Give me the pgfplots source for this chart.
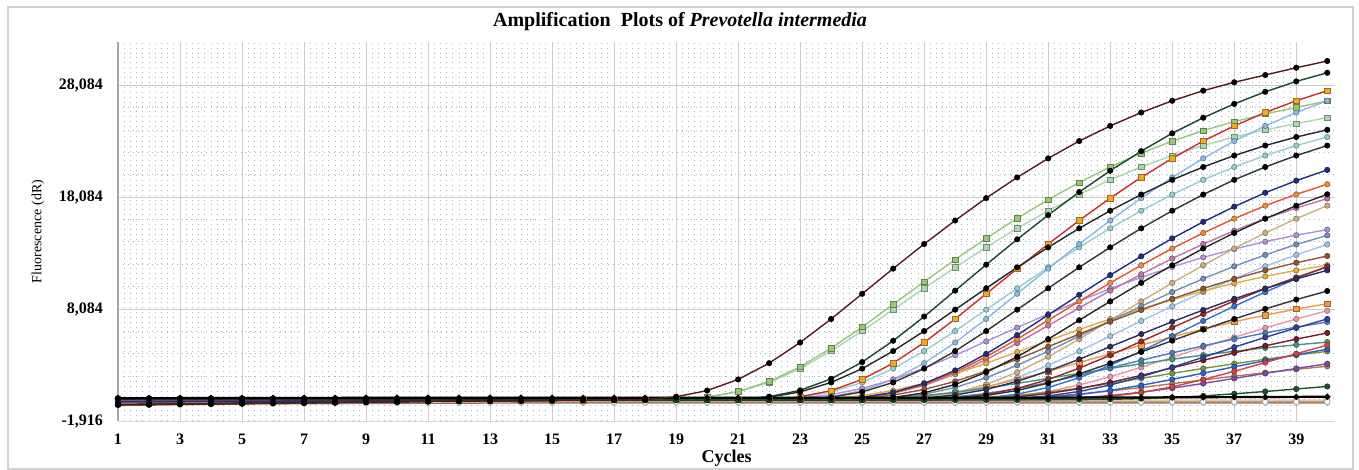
\documentclass[border=0pt]{standalone}
\usepackage{pgfplots}
\usepackage{pgfplotstable}
\pgfplotsset{compat=1.18}
\usepackage{fontspec}
\setmainfont{Liberation Serif}

% one row per well, one column per cycle (transposed below)
\pgfplotstableread{
name c1 c2 c3 c4 c5 c6 c7 c8 c9 c10 c11 c12 c13 c14 c15 c16 c17 c18 c19 c20 c21 c22 c23 c24 c25 c26 c27 c28 c29 c30 c31 c32 c33 c34 c35 c36 c37 c38 c39 c40
cycle 1 2 3 4 5 6 7 8 9 10 11 12 13 14 15 16 17 18 19 20 21 22 23 24 25 26 27 28 29 30 31 32 33 34 35 36 37 38 39 40
A -450 -430 -400 -370 -340 -310 -280 -250 -220 -190 -160 -130 -110 -90 -70 -50 -30 -10 250 800 1800 3250 5100 7200 9450 11700 13900 16000 18000 19850 21550 23100 24450 25650 26700 27600 28350 29000 29650 30250
B -200 -190 -180 -170 -160 -150 -140 -130 -120 -110 -100 -90 -80 -70 -60 -50 -40 -30 -30 225 720 1620 2925 4590 6480 8505 10530 12510 14400 16200 17865 19395 20790 22005 23085 24030 24840 25515 26100 26685
C 0 0 0 0 0 0 0 0 0 0 0 0 0 0 0 0 0 0 0 213 680 1530 2763 4335 6120 8033 9945 11815 13600 15300 16873 18318 19635 20783 21803 22695 23460 24098 24650 25203
D -450 -430 -400 -370 -340 -310 -280 -250 -220 -190 -160 -130 -110 -90 -70 -50 -30 -10 -10 -10 -10 258 824 1854 3348 5253 7416 9734 12051 14317 16480 18540 20446 22197 23793 25184 26420 27501 28428 29201
E 100 90 90 80 80 70 70 60 60 50 50 40 40 30 30 20 20 10 10 10 10 213 680 1530 2763 4335 6120 8033 9945 11815 13600 15300 16873 18318 19635 20783 21803 22695 23460 24098
F -200 -190 -180 -170 -160 -150 -140 -130 -120 -110 -100 -90 -80 -70 -60 -50 -40 -30 -30 -30 -30 -30 250 800 1800 3250 5100 7200 9450 11700 13900 16000 18000 19850 21550 23100 24450 25650 26700 27600
G 0 0 0 0 0 0 0 0 0 0 0 0 0 0 0 0 0 0 0 0 0 0 213 680 1530 2763 4335 6120 8033 9945 11815 13600 15300 16873 18318 19635 20783 21803 22695 23460
H 100 90 90 80 80 70 70 60 60 50 50 40 40 30 30 20 20 10 10 10 10 10 10 250 800 1800 3250 5100 7200 9450 11700 13900 16000 18000 19850 21550 23100 24450 25650 26700
I -450 -430 -400 -370 -340 -310 -280 -250 -220 -190 -160 -130 -110 -90 -70 -50 -30 -10 -10 -10 -10 -10 -10 213 680 1530 2763 4335 6120 8033 9945 11815 13600 15300 16873 18318 19635 20783 21803 22695
J -200 -190 -180 -170 -160 -150 -140 -130 -120 -110 -100 -90 -80 -70 -60 -50 -40 -30 -30 -30 -30 -30 -30 -30 200 640 1440 2600 4080 5760 7560 9360 11120 12800 14400 15880 17240 18480 19560 20520
K 0 0 0 0 0 0 0 0 0 0 0 0 0 0 0 0 0 0 0 0 0 0 0 0 188 600 1350 2438 3825 5400 7088 8775 10425 12000 13500 14888 16163 17325 18338 19238
L -450 -430 -400 -370 -340 -310 -280 -250 -220 -190 -160 -130 -110 -90 -70 -50 -30 -10 -10 -10 -10 -10 -10 -10 -10 188 600 1350 2438 3825 5400 7088 8775 10425 12000 13500 14888 16163 17325 18338
M 100 90 90 80 80 70 70 60 60 50 50 40 40 30 30 20 20 10 10 10 10 10 10 10 175 560 1260 2275 3570 5040 6615 8190 9730 11200 12600 13895 15085 16170 17115 17955
N -200 -190 -180 -170 -160 -150 -140 -130 -120 -110 -100 -90 -80 -70 -60 -50 -40 -30 -30 -30 -30 -30 -30 -30 -30 -30 188 600 1350 2438 3825 5400 7088 8775 10425 12000 13500 14888 16163 17325
O 0 0 0 0 0 0 0 0 0 0 0 0 0 0 0 0 0 0 0 0 0 0 0 0 0 150 480 1080 1950 3060 4320 5670 7020 8340 9600 10800 11910 12930 13860 14670
P -450 -430 -400 -370 -340 -310 -280 -250 -220 -190 -160 -130 -110 -90 -70 -50 -30 -10 -10 -10 -10 -10 -10 -10 -10 -10 150 480 1080 1950 3060 4320 5670 7020 8340 9600 10800 11910 12930 13860
Q -200 -190 -180 -170 -160 -150 -140 -130 -120 -110 -100 -90 -80 -70 -60 -50 -40 -30 -30 -30 -30 -30 -30 -30 125 400 900 1625 2550 3600 4725 5850 6950 8000 9000 9925 10775 11550 12225 12825
R 100 90 90 80 80 70 70 60 60 50 50 40 40 30 30 20 20 10 10 10 10 10 10 10 10 10 10 138 440 990 1788 2805 3960 5198 6435 7645 8800 9900 10918 11853
S 0 0 0 0 0 0 0 0 0 0 0 0 0 0 0 0 0 0 0 0 0 0 0 0 0 0 125 400 900 1625 2550 3600 4725 5850 6950 8000 9000 9925 10775 11550
U -450 -430 -400 -370 -340 -310 -280 -250 -220 -190 -160 -130 -110 -90 -70 -50 -30 -10 -10 -10 -10 -10 -10 -10 -10 -10 -10 113 360 810 1463 2295 3240 4253 5265 6255 7200 8100 8933 9698
V -200 -190 -180 -170 -160 -150 -140 -130 -120 -110 -100 -90 -80 -70 -60 -50 -40 -30 -30 -30 -30 -30 -30 -30 -30 88 280 630 1138 1785 2520 3308 4095 4865 5600 6300 6948 7543 8085 8558
W 0 0 0 0 0 0 0 0 0 0 0 0 0 0 0 0 0 0 0 0 0 0 0 0 0 0 0 0 100 320 720 1300 2040 2880 3780 4680 5560 6400 7200 7940
X 100 90 90 80 80 70 70 60 60 50 50 40 40 30 30 20 20 10 10 10 10 10 10 10 10 10 75 240 540 975 1530 2160 2835 3510 4170 4800 5400 5955 6465 6930
Y -450 -430 -400 -370 -340 -310 -280 -250 -220 -190 -160 -130 -110 -90 -70 -50 -30 -10 -10 -10 -10 -10 -10 -10 -10 -10 -10 -10 75 240 540 975 1530 2160 2835 3510 4170 4800 5400 5955
Z -200 -190 -180 -170 -160 -150 -140 -130 -120 -110 -100 -90 -80 -70 -60 -50 -40 -30 -30 -30 -30 -30 -30 -30 50 160 360 650 1020 1440 1890 2340 2780 3200 3600 3970 4310 4620 4890 5130
AA 0 0 0 0 0 0 0 0 0 0 0 0 0 0 0 0 0 0 0 0 0 0 0 0 0 0 0 0 0 63 200 450 813 1275 1800 2363 2925 3475 4000 4500
AB 100 90 90 80 80 70 70 60 60 50 50 40 40 30 30 20 20 10 10 10 10 10 10 10 10 10 10 50 160 360 650 1020 1440 1890 2340 2780 3200 3600 3970 4310
AC -200 -190 -180 -170 -160 -150 -140 -130 -120 -110 -100 -90 -80 -70 -60 -50 -40 -30 -30 -30 -30 -30 -30 -30 -30 -30 -30 -30 -30 -30 50 160 360 650 1020 1440 1890 2340 2780 3200
AD -450 -430 -400 -370 -340 -310 -280 -250 -220 -190 -160 -130 -110 -90 -70 -50 -30 -10 -10 -10 -10 -10 -10 -10 -10 -10 -10 -10 -10 -10 -10 -10 25 80 180 325 510 720 945 1170
AE 0 0 0 0 0 0 0 0 0 0 0 0 0 0 0 0 0 0 0 0 0 0 0 0 0 0 0 0 38 120 270 488 765 1080 1418 1755 2085 2400 2700 2978
AF 100 90 90 80 80 70 70 60 60 50 50 40 40 30 30 20 20 10 10 10 10 10 10 10 10 10 10 10 10 100 320 720 1300 2040 2880 3780 4680 5560 6400 7200
AG -450 -430 -400 -370 -340 -310 -280 -250 -220 -190 -160 -130 -110 -90 -70 -50 -30 -10 -10 -10 -10 -10 -10 -10 -10 -10 -10 -10 -10 -10 -10 88 280 630 1138 1785 2520 3308 4095 4865
AH -200 -190 -180 -170 -160 -150 -140 -130 -120 -110 -100 -90 -80 -70 -60 -50 -40 -30 -30 -30 -30 -30 -30 113 360 810 1463 2295 3240 4253 5265 6255 7200 8100 8933 9698 10395 11003 11543 12015
AI 0 0 0 0 0 0 0 0 0 0 0 0 0 0 0 0 0 0 0 0 0 0 0 0 0 0 0 0 150 480 1080 1950 3060 4320 5670 7020 8340 9600 10800 11910
AJ 100 90 90 80 80 70 70 60 60 50 50 40 40 30 30 20 20 10 10 10 10 10 138 440 990 1788 2805 3960 5198 6435 7645 8800 9900 10918 11853 12705 13448 14108 14685 15180
FA 120 130 130 140 140 150 150 150 160 160 160 160 160 160 160 160 160 160 160 160 160 160 160 160 160 160 160 160 170 170 170 180 180 190 200 210 220 230 240 250
FB -260 -250 -240 -230 -220 -210 -200 -200 -200 -200 -200 -200 -200 -200 -200 -200 -200 -200 -200 -200 -200 -200 -200 -200 -200 -200 -200 -200 -200 -200 -200 -200 -200 -200 -200 -200 -200 -200 -200 -200
FC -520 -490 -460 -430 -410 -390 -370 -360 -350 -340 -330 -320 -310 -300 -300 -300 -300 -300 -300 -300 -300 -300 -300 -300 -300 -300 -300 -300 -300 -300 -300 -300 -300 -300 -300 -300 -300 -300 -300 -300
FD -100 -100 -90 -90 -80 -80 -70 -70 -60 -60 -50 -50 -50 -50 -50 -50 -50 -50 -50 -50 -50 -50 -50 -50 -50 -50 -50 -50 -50 -50 -50 -50 -50 -50 -50 -50 -50 -50 -50 -50
}\raw
\pgfplotstabletranspose[colnames from=name]{\T}{\raw}

\definecolor{lA}{RGB}{90,25,25}
\definecolor{lB}{RGB}{150,200,120}
\definecolor{lC}{RGB}{170,215,175}
\definecolor{lD}{RGB}{25,70,45}
\definecolor{lF}{RGB}{205,45,40}
\definecolor{mF}{RGB}{245,165,40}
\definecolor{lG}{RGB}{150,205,205}
\definecolor{lH}{RGB}{140,185,225}
\definecolor{lJ}{RGB}{35,45,125}
\definecolor{lK}{RGB}{225,85,45}
\definecolor{mK}{RGB}{240,140,60}
\definecolor{lM}{RGB}{195,115,165}
\definecolor{lN}{RGB}{205,175,125}
\definecolor{lO}{RGB}{115,145,185}
\definecolor{lP}{RGB}{160,195,230}
\definecolor{lQ}{RGB}{145,85,55}
\definecolor{lR}{RGB}{155,40,45}
\definecolor{lS}{RGB}{45,45,95}
\definecolor{lV}{RGB}{240,155,70}
\definecolor{lW}{RGB}{235,150,170}
\definecolor{lX}{RGB}{75,125,185}
\definecolor{lY}{RGB}{125,25,45}
\definecolor{lZ}{RGB}{65,150,125}
\definecolor{lAA}{RGB}{45,95,205}
\definecolor{lAB}{RGB}{115,155,55}
\definecolor{lAC}{RGB}{125,75,165}
\definecolor{lAD}{RGB}{25,85,35}
\definecolor{lAE}{RGB}{175,125,85}
\definecolor{lAF}{RGB}{45,65,155}
\definecolor{lAG}{RGB}{215,65,65}
\definecolor{lAH}{RGB}{225,175,65}
\definecolor{lAI}{RGB}{55,115,205}
\definecolor{lAJ}{RGB}{175,145,215}
\definecolor{lFB}{RGB}{190,160,130}
\definecolor{lFC}{RGB}{145,115,105}
\definecolor{lFD}{RGB}{240,195,155}
\definecolor{dotc}{RGB}{165,182,205}

% column, line colour, mark colour, mark
\newcommand{\curve}[4]{\addplot[draw=#2, line width=0.7pt, mark=#4, mark size=1.35pt,
  mark options={solid, fill=#3, draw=#3!65!black, line width=0.3pt}] table[x=cycle, y=#1] {\T};}

\begin{document}
\begin{tikzpicture}
\begin{axis}[
  name=ax,
  scale only axis,
  width=608.5pt, height=189.5pt,
  xmin=1, xmax=40.25, ymin=-1916, ymax=31950,
  xtick={1,3,...,39},
  ytick={-1916,8084,18084,28084},
  yticklabels={{-1,916},{8,084},{18,084},{28,084}},
  scaled y ticks=false,
  minor x tick num=9,
  minor y tick num=4,
  major tick length=0pt, minor tick length=0pt,
  xmajorgrids=true, xminorgrids=true, ymajorgrids=true, yminorgrids=true,
  major grid style={gray!40, line width=0.4pt},
  minor grid style={dotc, line width=0.45pt, dash pattern=on 0.45pt off 2.0pt},
  axis x line*=bottom, axis y line*=left,
  x axis line style={-, draw=gray!30},
  y axis line style={-, draw=gray!70, line width=1pt},
  tick label style={font=\fontsize{8}{9}\selectfont\bfseries},
  /pgf/number format/assume math mode=true,
  xticklabel style={yshift=-3pt},
  yticklabel style={xshift=-4pt},
  xlabel={Cycles},
  xlabel style={font=\fontsize{9}{10}\selectfont\bfseries, at={(axis description cs:0.5,-0.0976)}, anchor=center},
  ylabel={Fluorescence (dR)},
  ylabel style={font=\fontsize{7}{8}\selectfont, at={(axis description cs:-0.0657,0.5)}, anchor=center},
]
\curve{FD}{lFD}{lFD}{*}
\curve{FC}{lFC}{white}{*}
\curve{FB}{lFB}{white}{*}
\curve{C}{lC}{lC}{square*}
\curve{B}{lB}{lB}{square*}
\curve{G}{lG}{lG}{*}
\curve{H}{lH}{lH}{*}
\curve{P}{lP}{lP}{*}
\curve{AJ}{lAJ}{lAJ}{*}
\curve{N}{lN}{lN}{*}
\curve{W}{lW}{lW}{*}
\curve{M}{lM}{lM}{*}
\curve{AH}{lAH}{lAH}{*}
\curve{V}{lV}{lV}{square*}
\curve{AE}{lAE}{lAE}{*}
\curve{Z}{lZ}{lZ}{*}
\curve{AB}{lAB}{lAB}{*}
\curve{O}{lO}{lO}{*}
\curve{X}{lX}{lX}{*}
\curve{AA}{lAA}{lAA}{*}
\curve{AI}{lAI}{lAI}{*}
\curve{AC}{lAC}{lAC}{*}
\curve{AG}{lAG}{lAG}{*}
\curve{Q}{lQ}{lQ}{*}
\curve{R}{lR}{lR}{*}
\curve{Y}{lY}{lY}{*}
\curve{K}{lK}{mK}{*}
\curve{F}{lF}{mF}{square*}
\curve{J}{lJ}{lJ}{*}
\curve{AF}{lAF}{lAF}{*}
\curve{S}{lS}{lS}{*}
\curve{U}{black!80}{black}{*}
\curve{L}{black!85}{black}{*}
\curve{I}{black!80}{black}{*}
\curve{E}{black!85}{black}{*}
\curve{D}{lD}{black}{*}
\curve{AD}{lAD}{lAD}{*}
\addplot[black, line width=1.1pt, mark=*, mark size=0.9pt] table[x=cycle, y=FA] {\T};
\curve{A}{lA}{black}{*}
\end{axis}
\draw[gray!35, line width=0.8pt] ([shift={(-55pt,-24pt)}]ax.south west) rectangle ([shift={(9pt,17.5pt)}]ax.north east);
\node[font=\fontsize{10}{12}\selectfont\bfseries] at ([shift={(281pt,10pt)}]ax.north west) {Amplification\ \ Plots of \textit{Prevotella intermedia}};
\pgfresetboundingbox
\path[use as bounding box] ([shift={(-59pt,-24.5pt)}]ax.south west) rectangle ([shift={(12pt,21pt)}]ax.north east);
\end{tikzpicture}
\end{document}
